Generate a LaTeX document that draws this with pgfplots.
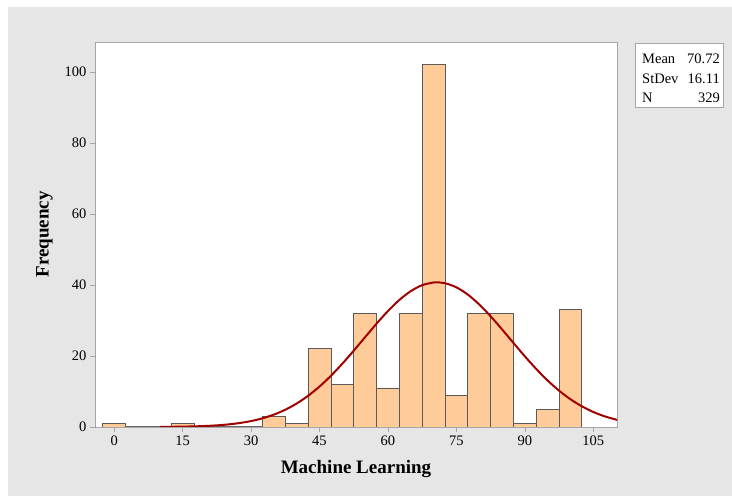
\documentclass[border=0pt]{standalone}
\usepackage{fontspec}
\setmainfont{Liberation Serif}
\usepackage{pgfplots}
\pgfplotsset{compat=1.18}
\definecolor{bg}{HTML}{E6E6E6}
\definecolor{barfill}{HTML}{FFCC99}
\definecolor{baredge}{HTML}{5A5A5A}
\definecolor{curvecol}{HTML}{A00000}
\definecolor{framecol}{HTML}{A6A6A6}
\begin{document}
\begin{tikzpicture}
\fill[white] (0pt,0pt) rectangle (732pt,496pt);
\fill[bg] (8pt,0pt) rectangle (732pt,489pt);
\begin{axis}[
  at={(95pt,69pt)}, anchor=south west,
  scale only axis, width=522pt, height=385pt,
  xmin=-4.2, xmax=110.2, ymin=0, ymax=108.4,
  axis background/.style={fill=white},
  axis line style={framecol},
  xtick={0,15,...,105}, ytick={0,20,...,100},
  tick align=outside, xtick pos=bottom, ytick pos=left,
  major tick length=5pt, tick style={framecol, thin},
  ticklabel style={font=\fontsize{14.5}{16}\selectfont},
  /pgf/number format/assume math mode=true,
  xlabel={Machine Learning}, ylabel={Frequency},
  label style={font=\bfseries\fontsize{19}{21}\selectfont},
  xlabel style={yshift=-8pt},
  ylabel style={yshift=5pt},
  clip=true,
]
\addplot[baredge, line width=1.2pt, no markers] coordinates {(2.5,0) (32.5,0)};
\addplot[ybar, bar width=5, fill=barfill, draw=baredge, line width=0.8pt] coordinates {
(0,1) (5,0) (10,0) (15,1) (20,0) (25,0) (30,0) (35,3) (40,1) (45,22) (50,12)
(55,32) (60,11) (65,32) (70,102) (75,9) (80,32) (85,32) (90,1) (95,5) (100,33)
};
\addplot[curvecol, line width=2pt, smooth, no markers] coordinates {
(10,0.034) (12.5,0.059) (15,0.103) (17.5,0.174) (20,0.287) (22.5,0.462)
(25,0.727) (27.5,1.114) (30,1.670) (32.5,2.443) (35,3.487) (37.5,4.859)
(40,6.613) (42.5,8.783) (45,11.388) (47.5,14.416) (50,17.814) (52.5,21.489)
(55,25.306) (57.5,29.090) (60,32.645) (62.5,35.764) (65,38.248) (67.5,39.930)
(70,40.695) (70.72,40.736) (72.5,40.488) (75,39.323) (77.5,37.284) (80,34.508)
(82.5,31.180) (85,27.501) (87.5,23.679) (90,19.905) (92.5,16.333) (95,13.084)
(97.5,10.232) (100,7.812) (102.5,5.821) (105,4.234) (107.5,3.007) (110,2.085)
(110.2,2.00)
};
\end{axis}
\draw[framecol, fill=white] (635pt,389pt) rectangle (723pt,453pt);
\node[anchor=north west, inner sep=0pt] at (642pt,446pt)
  {\fontsize{14.5}{19.5}\selectfont
   \begin{tabular}{@{}l@{}}
   Mean\\
   StDev\\
   N
   \end{tabular}};
\node[anchor=north east, inner sep=0pt] at (720pt,446pt)
  {\fontsize{14.5}{19.5}\selectfont
   \begin{tabular}{@{}r@{}}
   70.72\\
   16.11\\
   329
   \end{tabular}};
\end{tikzpicture}
\end{document}
